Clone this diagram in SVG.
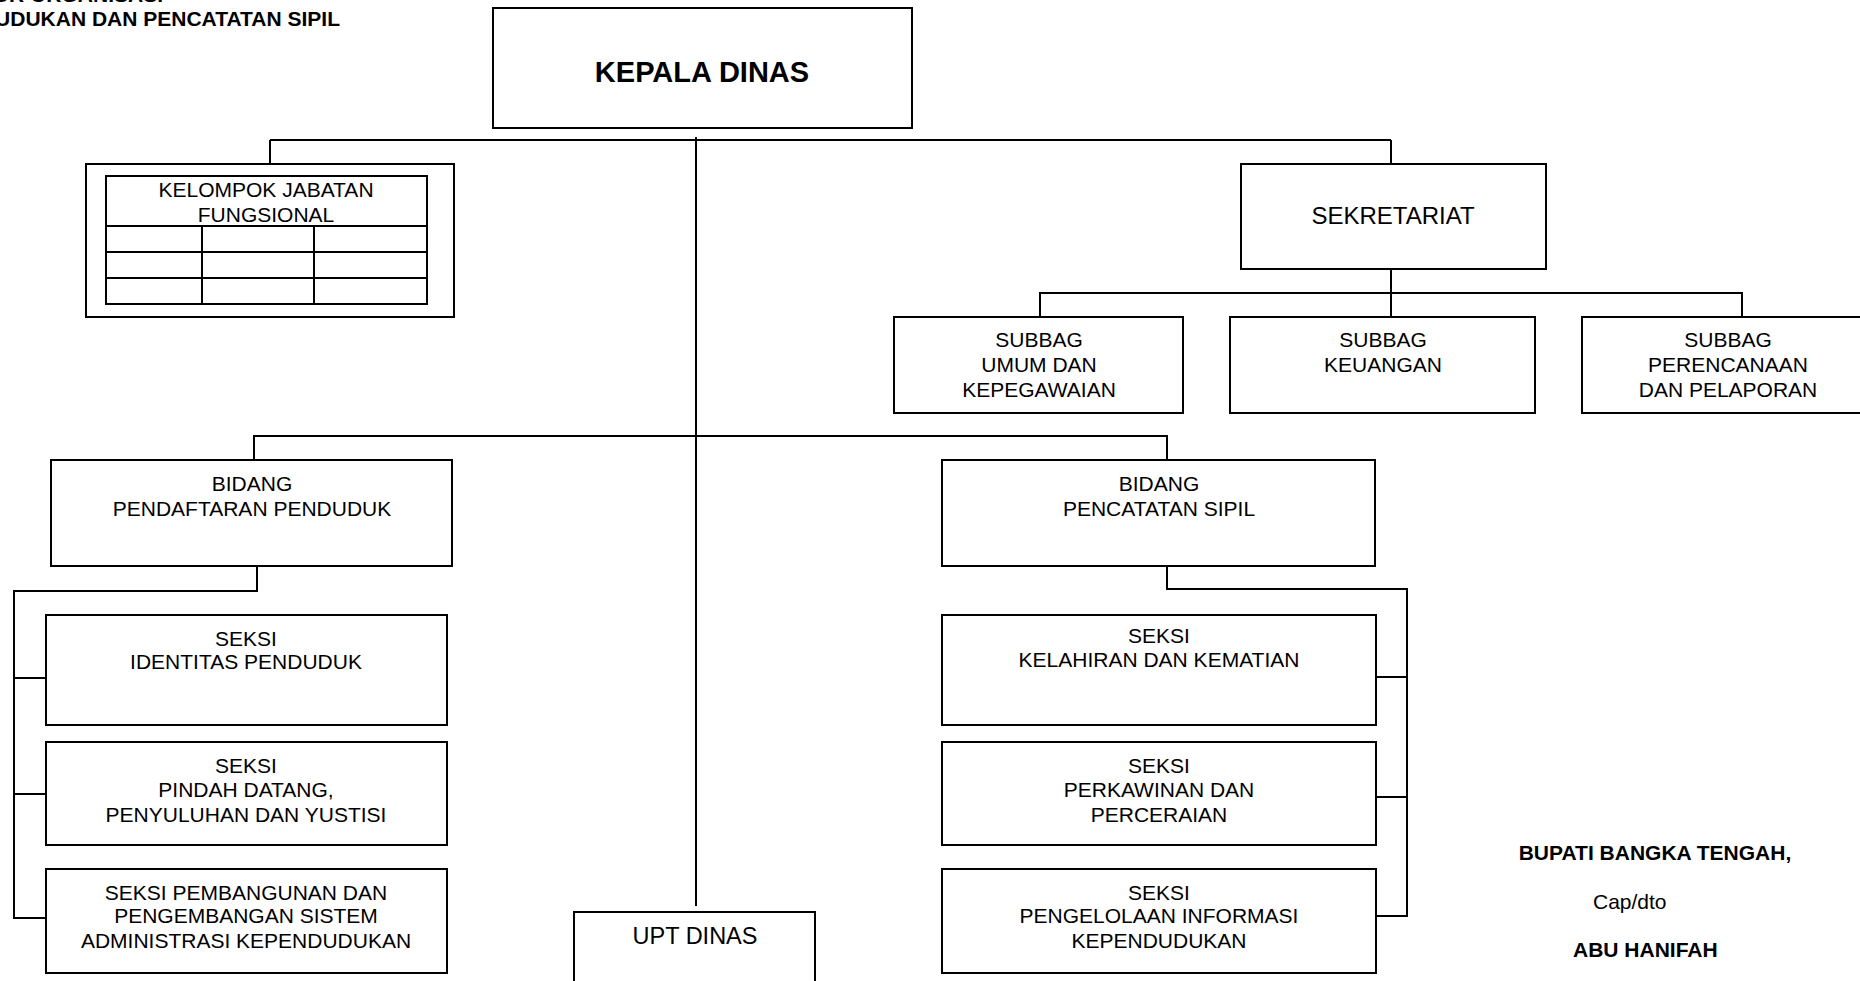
<svg xmlns="http://www.w3.org/2000/svg" width="1860" height="981" viewBox="0 0 1860 981">
<style>
  .box { fill: #fff; stroke: #000; stroke-width: 2; }
  .ln { fill: none; stroke: #000; stroke-width: 2; }
  text { font-family: "Liberation Sans", Arial, sans-serif; fill: #000; }
  .t { font-size: 21px; text-anchor: middle; }
  .b { font-size: 21px; font-weight: bold; }
</style>
<rect width="1860" height="981" fill="#fff"/>

<g id="title">
  <text class="b" x="163" y="2" text-anchor="end">STRUKTUR ORGANISASI</text>
  <text class="b" x="340" y="26" text-anchor="end">DINAS KEPENDUDUKAN DAN PENCATATAN SIPIL</text>
</g>

<g id="connectors">
  <path class="ln" d="M270 140 H1391"/>
  <path class="ln" d="M696 137 V906"/>
  <path class="ln" d="M270 140 V164"/>
  <path class="ln" d="M1391 140 V164"/>
  <path class="ln" d="M1391 269 V317"/>
  <path class="ln" d="M1040 317 V293 H1742 V317"/>
  <path class="ln" d="M254 460 V436 H1167 V460"/>
  <path class="ln" d="M257 566 V591 H14 V918 H46"/>
  <path class="ln" d="M14 678 H46"/>
  <path class="ln" d="M14 794 H46"/>
  <path class="ln" d="M1167 566 V589 H1407 V916 H1372"/>
  <path class="ln" d="M1375 677 H1407"/>
  <path class="ln" d="M1375 797 H1407"/>
</g>

<g id="kepala-dinas">
  <rect class="box" x="493" y="8" width="419" height="120"/>
  <text x="702" y="82" text-anchor="middle" font-size="29" font-weight="bold">KEPALA DINAS</text>
</g>

<g id="kelompok-jabatan-fungsional">
  <rect class="box" x="86" y="164" width="368" height="153"/>
  <rect class="box" x="106" y="176" width="321" height="128"/>
  <path class="ln" d="M106 226 H427 M106 252 H427 M106 278 H427 M202 226 V304 M314 226 V304"/>
  <text class="t" x="266" y="197">KELOMPOK JABATAN</text>
  <text class="t" x="266" y="222">FUNGSIONAL</text>
</g>

<g id="sekretariat">
  <rect class="box" x="1241" y="164" width="305" height="105"/>
  <text x="1393" y="224" text-anchor="middle" font-size="24">SEKRETARIAT</text>
</g>

<g id="subbag-umum">
  <rect class="box" x="894" y="317" width="289" height="96"/>
  <text class="t" x="1039" y="347">SUBBAG</text>
  <text class="t" x="1039" y="372">UMUM DAN</text>
  <text class="t" x="1039" y="397">KEPEGAWAIAN</text>
</g>

<g id="subbag-keuangan">
  <rect class="box" x="1230" y="317" width="305" height="96"/>
  <text class="t" x="1383" y="347">SUBBAG</text>
  <text class="t" x="1383" y="372">KEUANGAN</text>
</g>

<g id="subbag-perencanaan">
  <rect class="box" x="1582" y="317" width="300" height="96"/>
  <text class="t" x="1728" y="347">SUBBAG</text>
  <text class="t" x="1728" y="372">PERENCANAAN</text>
  <text class="t" x="1728" y="397">DAN PELAPORAN</text>
</g>

<g id="bidang-pendaftaran">
  <rect class="box" x="51" y="460" width="401" height="106"/>
  <text class="t" x="252" y="491">BIDANG</text>
  <text class="t" x="252" y="516">PENDAFTARAN PENDUDUK</text>
</g>

<g id="bidang-pencatatan">
  <rect class="box" x="942" y="460" width="433" height="106"/>
  <text class="t" x="1159" y="491">BIDANG</text>
  <text class="t" x="1159" y="516">PENCATATAN SIPIL</text>
</g>

<g id="seksi-identitas">
  <rect class="box" x="46" y="615" width="401" height="110"/>
  <text class="t" x="246" y="646">SEKSI</text>
  <text class="t" x="246" y="669">IDENTITAS PENDUDUK</text>
</g>

<g id="seksi-pindah">
  <rect class="box" x="46" y="742" width="401" height="103"/>
  <text class="t" x="246" y="773">SEKSI</text>
  <text class="t" x="246" y="797">PINDAH DATANG,</text>
  <text class="t" x="246" y="822">PENYULUHAN DAN YUSTISI</text>
</g>

<g id="seksi-pembangunan">
  <rect class="box" x="46" y="869" width="401" height="104"/>
  <text class="t" x="246" y="900">SEKSI PEMBANGUNAN DAN</text>
  <text class="t" x="246" y="923">PENGEMBANGAN SISTEM</text>
  <text class="t" x="246" y="948">ADMINISTRASI  KEPENDUDUKAN</text>
</g>

<g id="seksi-kelahiran">
  <rect class="box" x="942" y="615" width="434" height="110"/>
  <text class="t" x="1159" y="643">SEKSI</text>
  <text class="t" x="1159" y="667">KELAHIRAN DAN KEMATIAN</text>
</g>

<g id="seksi-perkawinan">
  <rect class="box" x="942" y="742" width="434" height="103"/>
  <text class="t" x="1159" y="773">SEKSI</text>
  <text class="t" x="1159" y="797">PERKAWINAN DAN</text>
  <text class="t" x="1159" y="822">PERCERAIAN</text>
</g>

<g id="seksi-pengelolaan">
  <rect class="box" x="942" y="869" width="434" height="104"/>
  <text class="t" x="1159" y="900">SEKSI</text>
  <text class="t" x="1159" y="923">PENGELOLAAN INFORMASI</text>
  <text class="t" x="1159" y="948">KEPENDUDUKAN</text>
</g>

<g id="upt-dinas">
  <rect class="box" x="574" y="912" width="241" height="90"/>
  <text x="695" y="944" text-anchor="middle" font-size="23.5">UPT DINAS</text>
</g>

<g id="signature">
  <text class="b" x="1655" y="860" text-anchor="middle">BUPATI BANGKA TENGAH,</text>
  <text x="1593" y="909" font-size="21">Cap/dto</text>
  <text class="b" x="1573" y="957">ABU HANIFAH</text>
</g>
</svg>
